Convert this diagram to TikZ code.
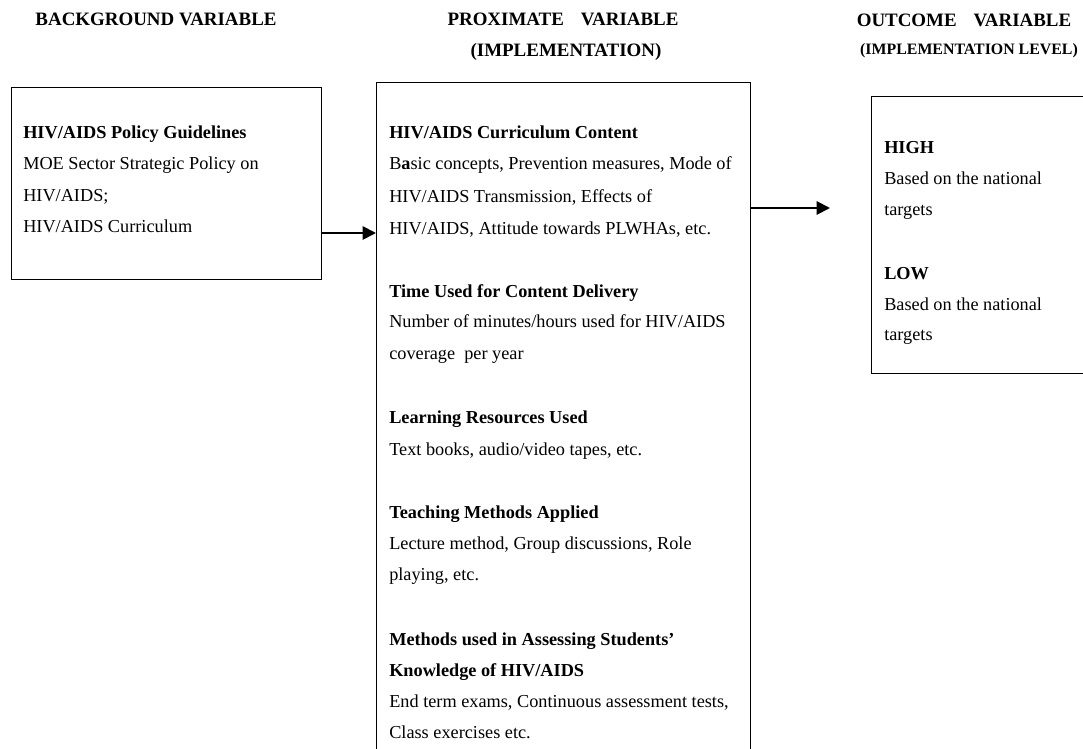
\documentclass[tikz,border=0pt]{standalone}
\usepackage{fontspec}
\setmainfont{Liberation Serif}
\usetikzlibrary{arrows.meta}
\tikzset{
  box/.style={draw=black, line width=0.9pt, rectangle, inner sep=0pt, anchor=north west},
  txt/.style={anchor=base west, inner sep=0pt, font=\fontsize{13.7}{16}\selectfont},
  hdr/.style={anchor=base, inner sep=0pt, font=\fontsize{14.2}{16}\selectfont\bfseries},
  hdrs/.style={anchor=base, inner sep=0pt, font=\fontsize{11.9}{14}\selectfont\bfseries},
  arr/.style={line width=1.4pt, -{Triangle[length=10pt,width=10pt]}}
}
\begin{document}
\begin{tikzpicture}[x=0.75pt, y=-0.75pt]
\useasboundingbox (0,0) rectangle (1083,749);
\clip (0,0) rectangle (1083,749);
% headers
\node[hdr] (h1) at (156,26) {BACKGROUND VARIABLE};
\node[hdr] (h2) at (563,26) {PROXIMATE\hspace{0.9em}VARIABLE};
\node[hdr] (h2b) at (566,57) {(IMPLEMENTATION)};
\node[hdr] (h3) at (964,27) {OUTCOME\hspace{0.9em}VARIABLE};
\node[hdrs] (h3b) at (969,55) {(IMPLEMENTATION LEVEL)};
% boxes
\node[box, minimum width=232.5pt, minimum height=144pt] (left) at (11,87) {};
\node[box, minimum width=280.5pt, minimum height=525pt] (mid) at (376,82) {};
\node[box, minimum width=200pt, minimum height=207.75pt] (right) at (871,96) {};
% left text
\node[txt] (l1) at (23,138) {\bfseries HIV/AIDS Policy Guidelines};
\node[txt] (l2) at (23,170) {MOE Sector Strategic Policy on};
\node[txt] (l3) at (23,201) {HIV/AIDS;};
\node[txt] (l4) at (23,232) {HIV/AIDS Curriculum};
% middle text
\node[txt] (m1) at (389,139) {\bfseries HIV/AIDS Curriculum Content};
\node[txt] (m2) at (389,170) {B{\bfseries a}sic concepts, Prevention measures, Mode of};
\node[txt] (m3) at (389,202) {HIV/AIDS Transmission, Effects of};
\node[txt] (m4) at (389,234) {HIV/AIDS, Attitude towards PLWHAs, etc.};
\node[txt] (m5) at (389,297) {\bfseries Time Used for Content Delivery};
\node[txt] (m6) at (389,327) {Number of minutes/hours used for HIV/AIDS};
\node[txt] (m7) at (389,359) {coverage\ \ per year};
\node[txt] (m8) at (389,423) {\bfseries Learning Resources Used};
\node[txt] (m9) at (389,455) {Text books, audio/video tapes, etc.};
\node[txt] (m10) at (389,518) {\bfseries Teaching Methods Applied};
\node[txt] (m11) at (389,549) {Lecture method, Group discussions, Role};
\node[txt] (m12) at (389,580) {playing, etc.};
\node[txt] (m13) at (389,645) {\bfseries Methods used in Assessing Students’};
\node[txt] (m14) at (389,676) {\bfseries Knowledge of HIV/AIDS};
\node[txt] (m15) at (389,707) {End term exams, Continuous assessment tests,};
\node[txt] (m16) at (389,738) {Class exercises etc.};
% right text
\node[txt] (r1) at (884,154) {\bfseries HIGH};
\node[txt] (r2) at (884,185) {Based on the national};
\node[txt] (r3) at (884,215) {targets};
\node[txt] (r4) at (884,279) {\bfseries LOW};
\node[txt] (r5) at (884,310) {Based on the national};
\node[txt] (r6) at (884,340) {targets};
% arrows
\coordinate (a2end) at (830,208);
\draw[arr] (left.east |- 0,233) -- (mid.west |- 0,233);
\draw[arr] (mid.east |- a2end) -- (a2end);
\end{tikzpicture}
\end{document}
